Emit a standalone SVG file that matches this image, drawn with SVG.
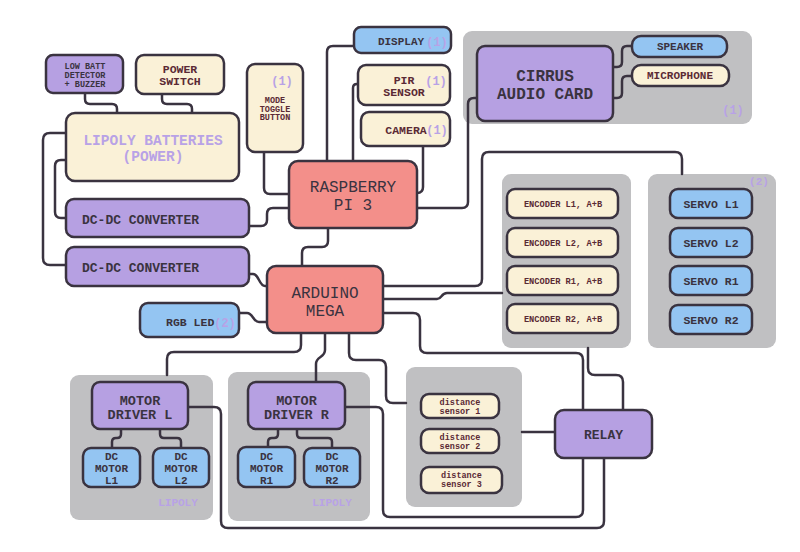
<svg xmlns="http://www.w3.org/2000/svg" width="800" height="552" viewBox="0 0 800 552">
<style>
.o{stroke:#3a3340;stroke-width:2.5}
.pu{fill:#b6a0e2}
.cr{fill:#faf1d7}
.bl{fill:#94c5f2}
.sa{fill:#f38f8a}
.gr{fill:#c0c0c2}
.c{fill:none;stroke:#3a3340;stroke-width:2.5;stroke-linecap:round}
text{font-family:"Liberation Mono","DejaVu Sans Mono",monospace;font-weight:bold;fill:#3a3340;text-anchor:middle}
.rt{fill:#5a2a35}
.pt{fill:#b8a2e6}
.thin{font-weight:normal}
.s{text-anchor:start}
</style>
<rect width="800" height="552" fill="#ffffff"/>

<g id="audio-group"><rect class="gr" x="463" y="31" width="289" height="93" rx="9"/><text class="pt" x="733" y="114" font-size="12">(1)</text></g>
<g id="encoder-group"><rect class="gr" x="502" y="174" width="129" height="174" rx="9"/></g>
<g id="servo-group"><rect class="gr" x="648" y="174" width="128" height="174" rx="9"/><text class="pt" x="759" y="185" font-size="11">(2)</text></g>
<g id="motor-l-group"><rect class="gr" x="70" y="375" width="143" height="145" rx="9"/><text class="pt" x="178" y="506" font-size="11">LIPOLY</text></g>
<g id="motor-r-group"><rect class="gr" x="228" y="372" width="142" height="149" rx="9"/><text class="pt" x="332" y="506" font-size="11">LIPOLY</text></g>
<g id="distance-group"><rect class="gr" x="406" y="367" width="116" height="140" rx="9"/></g>

<g id="connectors">
<path class="c" d="M85,93 V99 Q85,104 90,104 H112 Q117,104 117,109 V113"/>
<path class="c" d="M162,94 V99 Q162,104 167,104 H187 Q192,104 192,109 V113"/>
<path class="c" d="M66,133 H50 Q43,133 43,140 V258 Q43,265 50,265 H66"/>
<path class="c" d="M66,160 H61 Q55,160 55,166 V212 Q55,218 61,218 H66"/>
<path class="c" d="M249,226 H261 Q267,226 267,220 V214 Q267,208 273,208 H289"/>
<path class="c" d="M264,152 V188 Q264,194 270,194 H289"/>
<path class="c" d="M354,46 H333 Q327,46 327,52 V161"/>
<path class="c" d="M358,84 H357 Q353,84 353,88 V161"/>
<path class="c" d="M423,146 V187 Q423,193 417,193"/>
<path class="c" d="M477,98 H474 Q468,98 468,104 V202 Q468,208 462,208 H417"/>
<path class="c" d="M613,67 H617 Q622,67 622,62 V51 Q622,46 627,46 H632"/>
<path class="c" d="M613,98 H617 Q622,98 622,93 V81 Q622,76 627,76 H632"/>
<path class="c" d="M328,228 V241 Q328,247 322,247 H308 Q302,247 302,253 V266"/>
<path class="c" d="M249,274 H253 C259,274 259,286 265,286 H267"/>
<path class="c" d="M239,313 H247 C253,313 253,322 259,322 H267"/>
<path class="c" d="M383,286 H475 Q482,286 482,279 V159 Q482,152 489,152 H675 Q682,152 682,159 V174"/>
<path class="c" d="M383,299 H437 C442,299 441,293 447,293 H502"/>
<path class="c" d="M383,313 H413 Q420,313 420,320 V346 Q420,353 427,353 H576 Q583,353 583,360 V410"/>
<path class="c" d="M301,333 V345 Q301,352 294,352 H174 Q167,352 167,359 V375"/>
<path class="c" d="M325,333 V350 C325,358 316,356 316,364 V382"/>
<path class="c" d="M349,333 V353 Q349,360 356,360 H379 Q386,360 386,367 V396 Q386,403 393,403 H406"/>
<path class="c" d="M588,348 V368 Q588,375 595,375 H616 Q623,375 623,382 V410"/>
<path class="c" d="M522,432 H555"/>
<path class="c" d="M345,407 H376 Q383,407 383,414 V510 Q383,517 390,517 H576 Q583,517 583,510 V458"/>
<path class="c" d="M188,407 H214 Q221,407 221,414 V521 Q221,528 228,528 H597 Q604,528 604,521 V458"/>
<path class="c" d="M121,429 V434 Q121,438 117,438 H116 Q112,438 112,442 V448"/>
<path class="c" d="M160,429 V434 Q160,438 164,438 H177 Q181,438 181,442 V448"/>
<path class="c" d="M278,429 V434 Q278,438 274,438 H272 Q268,438 268,442 V447"/>
<path class="c" d="M297,429 V434 Q297,438 301,438 H328 Q332,438 332,442 V448"/>
</g>

<g id="low-batt"><rect class="o pu" x="46" y="55" width="77" height="38" rx="7"/><text x="85" y="69" font-size="8.5">LOW BATT</text><text x="85" y="78" font-size="8.5">DETECTOR</text><text x="85" y="87" font-size="8.5">+ BUZZER</text></g>
<g id="power-switch"><rect class="o cr" x="136" y="55" width="88" height="39" rx="8"/><text class="rt" x="180" y="73" font-size="11.5">POWER</text><text class="rt" x="180" y="85" font-size="11.5">SWITCH</text></g>
<g id="lipoly"><rect class="o cr" x="66" y="113" width="173" height="68" rx="9"/><text class="pt" x="153" y="145" font-size="14.5">LIPOLY BATTERIES</text><text class="pt" x="153" y="161" font-size="14.5">(POWER)</text></g>
<g id="mode-toggle"><rect class="o cr" x="247" y="64" width="56" height="88" rx="8"/><text class="pt" x="282" y="85" font-size="12">(1)</text><text class="rt" x="275" y="103" font-size="8.5">MODE</text><text class="rt" x="275" y="111.5" font-size="8.5">TOGGLE</text><text class="rt" x="275" y="120" font-size="8.5">BUTTON</text></g>
<g id="display"><rect class="o bl" x="354" y="27" width="97" height="26" rx="7"/><text x="401" y="45" font-size="11">DISPLAY</text><text class="pt" x="437" y="46" font-size="12">(1)</text></g>
<g id="pir"><rect class="o cr" x="358" y="65" width="92" height="40" rx="8"/><text class="rt" x="404" y="84" font-size="11.5">PIR</text><text class="rt" x="404" y="96" font-size="11.5">SENSOR</text><text class="pt" x="436" y="85" font-size="12">(1)</text></g>
<g id="camera"><rect class="o cr" x="361" y="112" width="89" height="34" rx="8"/><text class="rt" x="406" y="134" font-size="11.5">CAMERA</text><text class="pt" x="437" y="134" font-size="12">(1)</text></g>
<g id="cirrus"><rect class="o pu" x="477" y="46" width="136" height="75" rx="8"/><text x="545" y="81" font-size="16">CIRRUS</text><text x="545" y="99" font-size="16">AUDIO CARD</text></g>
<g id="speaker"><rect class="o bl" x="632" y="36" width="95" height="21" rx="9"/><text x="680" y="50" font-size="11">SPEAKER</text></g>
<g id="microphone"><rect class="o cr" x="632" y="65" width="97" height="21" rx="9"/><text class="rt" x="680" y="79" font-size="11">MICROPHONE</text></g>
<g id="raspberry"><rect class="o sa" x="289" y="161" width="128" height="67" rx="9"/><text class="thin" x="353" y="192" font-size="16">RASPBERRY</text><text class="thin" x="353" y="210" font-size="16">PI 3</text></g>
<g id="arduino"><rect class="o sa" x="267" y="266" width="116" height="67" rx="9"/><text class="thin" x="325" y="298" font-size="16">ARDUINO</text><text class="thin" x="325" y="316" font-size="16">MEGA</text></g>
<g id="dcdc1"><rect class="o pu" x="66" y="199" width="183" height="38" rx="8"/><text class="s" x="82" y="223.5" font-size="13">DC-DC CONVERTER</text></g>
<g id="dcdc2"><rect class="o pu" x="66" y="247" width="183" height="39" rx="8"/><text class="s" x="82" y="271.5" font-size="13">DC-DC CONVERTER</text></g>
<g id="rgb-led"><rect class="o bl" x="140" y="303" width="99" height="34" rx="8"/><text class="s" x="166" y="326" font-size="11.5">RGB LED</text><text class="pt" x="225" y="327" font-size="12">(2)</text></g>
<g id="enc-l1"><rect class="o cr" x="507" y="189" width="111" height="29" rx="8"/><text class="rt" x="563" y="207" font-size="8.7">ENCODER L1, A+B</text></g>
<g id="enc-l2"><rect class="o cr" x="507" y="228" width="111" height="29" rx="8"/><text class="rt" x="563" y="245.5" font-size="8.7">ENCODER L2, A+B</text></g>
<g id="enc-r1"><rect class="o cr" x="507" y="266" width="111" height="29" rx="8"/><text class="rt" x="563" y="283.5" font-size="8.7">ENCODER R1, A+B</text></g>
<g id="enc-r2"><rect class="o cr" x="507" y="304" width="111" height="29" rx="8"/><text class="rt" x="563" y="321.5" font-size="8.7">ENCODER R2, A+B</text></g>
<g id="servo-l1"><rect class="o bl" x="670" y="189" width="82" height="29" rx="8"/><text x="711" y="208" font-size="11.5">SERVO L1</text></g>
<g id="servo-l2"><rect class="o bl" x="670" y="228" width="82" height="29" rx="8"/><text x="711" y="246.5" font-size="11.5">SERVO L2</text></g>
<g id="servo-r1"><rect class="o bl" x="670" y="266" width="82" height="29" rx="8"/><text x="711" y="285" font-size="11.5">SERVO R1</text></g>
<g id="servo-r2"><rect class="o bl" x="670" y="305" width="82" height="29" rx="8"/><text x="711" y="323.5" font-size="11.5">SERVO R2</text></g>
<g id="motor-driver-l"><rect class="o pu" x="92" y="382" width="96" height="47" rx="8"/><text x="140" y="405" font-size="13.5">MOTOR</text><text x="140" y="419" font-size="13.5">DRIVER L</text></g>
<g id="motor-driver-r"><rect class="o pu" x="248" y="382" width="97" height="47" rx="8"/><text x="296.5" y="405" font-size="13.5">MOTOR</text><text x="296.5" y="419" font-size="13.5">DRIVER R</text></g>
<g id="dc-motor-l1"><rect class="o bl" x="83" y="448" width="57" height="39" rx="8"/><text x="111.5" y="460" font-size="11">DC</text><text x="111.5" y="472" font-size="11">MOTOR</text><text x="111.5" y="484" font-size="11">L1</text></g>
<g id="dc-motor-l2"><rect class="o bl" x="153" y="448" width="56" height="39" rx="8"/><text x="181" y="460" font-size="11">DC</text><text x="181" y="472" font-size="11">MOTOR</text><text x="181" y="484" font-size="11">L2</text></g>
<g id="dc-motor-r1"><rect class="o bl" x="238" y="447" width="57" height="40" rx="8"/><text x="266.5" y="460" font-size="11">DC</text><text x="266.5" y="472" font-size="11">MOTOR</text><text x="266.5" y="484" font-size="11">R1</text></g>
<g id="dc-motor-r2"><rect class="o bl" x="304" y="448" width="56" height="39" rx="8"/><text x="332" y="460" font-size="11">DC</text><text x="332" y="472" font-size="11">MOTOR</text><text x="332" y="484" font-size="11">R2</text></g>
<g id="distance-1"><rect class="o cr" x="421" y="394" width="78" height="24" rx="8"/><text class="rt" x="460" y="405" font-size="8.5">distance</text><text class="rt" x="460" y="413.5" font-size="8.5">sensor 1</text></g>
<g id="distance-2"><rect class="o cr" x="421" y="429" width="78" height="24" rx="8"/><text class="rt" x="460" y="440" font-size="8.5">distance</text><text class="rt" x="460" y="448.5" font-size="8.5">sensor 2</text></g>
<g id="distance-3"><rect class="o cr" x="421" y="467" width="81" height="26" rx="8"/><text class="rt" x="461.5" y="478" font-size="8.5">distance</text><text class="rt" x="461.5" y="486.5" font-size="8.5">sensor 3</text></g>
<g id="relay"><rect class="o pu" x="555" y="410" width="97" height="48" rx="9"/><text x="603.5" y="439" font-size="13">RELAY</text></g>
</svg>
